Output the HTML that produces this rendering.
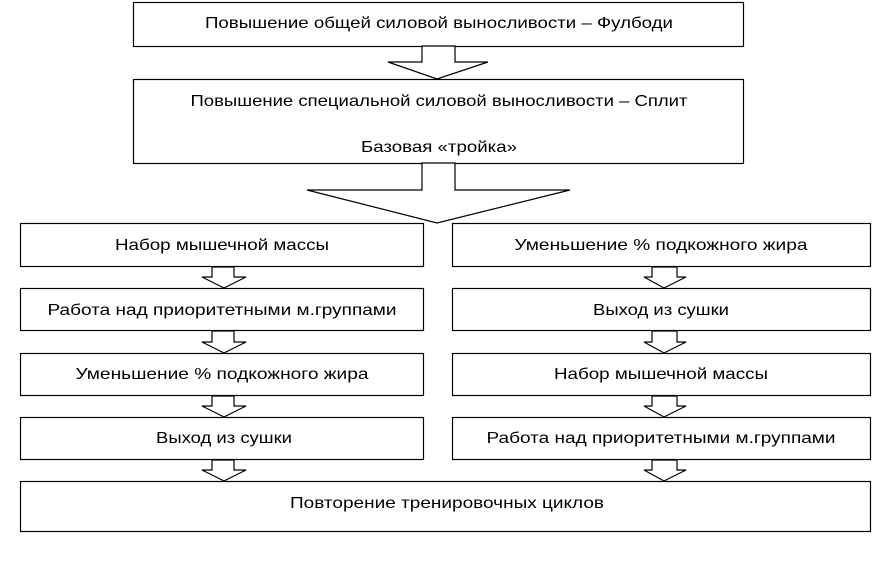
<!DOCTYPE html>
<html><head><meta charset="utf-8"><style>
html,body{margin:0;padding:0;background:#fff;}
svg{display:block;}
text{font-family:"Liberation Sans",sans-serif;font-size:16px;fill:#000;}
</style></head><body>
<svg width="880" height="567" viewBox="0 0 880 567" xmlns="http://www.w3.org/2000/svg">
<g fill="#fff" stroke="#000" stroke-width="1.2">
<rect x="133.5" y="2.5" width="610" height="44"/>
<polygon points="422,46 422,62 388,62 437,79 488,62 455,62 455,46"/>
<rect x="133.5" y="79.5" width="610" height="84"/>
<polygon points="422,163 422,190 307,190 437,223 570,190 455,190 455,163"/>
<rect x="20.5" y="223.5" width="403" height="43"/>
<rect x="452.5" y="223.5" width="418" height="43"/>
<rect x="20.5" y="288.5" width="403" height="42"/>
<rect x="452.5" y="288.5" width="418" height="42"/>
<rect x="20.5" y="353.5" width="403" height="42"/>
<rect x="452.5" y="353.5" width="418" height="42"/>
<rect x="20.5" y="417.5" width="403" height="42"/>
<rect x="452.5" y="417.5" width="418" height="42"/>
<rect x="20.5" y="481.5" width="850" height="50"/>
<g id="a">
<polygon points="212,267 212,277 202,277 224,288 246,277 234,277 234,267"/>
<polygon points="212,331 212,342 202,342 224,353 246,342 234,342 234,331"/>
<polygon points="212,396 212,406 202,406 224,417 246,406 234,406 234,396"/>
<polygon points="212,460 212,470 202,470 224,481 246,470 234,470 234,460"/>
</g>
<polygon points="652,267 652,277 644,277 664,288 686,277 677,277 677,267"/>
<polygon points="652,331 652,342 644,342 664,353 686,342 677,342 677,331"/>
<polygon points="652,396 652,406 644,406 664,417 686,406 677,406 677,396"/>
<polygon points="652,460 652,470 644,470 664,481 686,470 677,470 677,460"/>
</g>
<g text-anchor="middle">
<text x="439" y="28" textLength="468" lengthAdjust="spacingAndGlyphs">Повышение общей силовой выносливости – Фулбоди</text>
<text x="439" y="106" textLength="497" lengthAdjust="spacingAndGlyphs">Повышение специальной силовой выносливости – Сплит</text>
<text x="439" y="152" textLength="156" lengthAdjust="spacingAndGlyphs">Базовая «тройка»</text>
<text x="222" y="250" textLength="214" lengthAdjust="spacingAndGlyphs">Набор мышечной массы</text>
<text x="661" y="250" textLength="293" lengthAdjust="spacingAndGlyphs">Уменьшение % подкожного жира</text>
<text x="222" y="315" textLength="349" lengthAdjust="spacingAndGlyphs">Работа над приоритетными м.группами</text>
<text x="661" y="315" textLength="136" lengthAdjust="spacingAndGlyphs">Выход из сушки</text>
<text x="222" y="379" textLength="293" lengthAdjust="spacingAndGlyphs">Уменьшение % подкожного жира</text>
<text x="661" y="379" textLength="214" lengthAdjust="spacingAndGlyphs">Набор мышечной массы</text>
<text x="224" y="443" textLength="136" lengthAdjust="spacingAndGlyphs">Выход из сушки</text>
<text x="661" y="443" textLength="349" lengthAdjust="spacingAndGlyphs">Работа над приоритетными м.группами</text>
<text x="447" y="508" textLength="314" lengthAdjust="spacingAndGlyphs">Повторение тренировочных циклов</text>
</g>
</svg>
</body></html>
